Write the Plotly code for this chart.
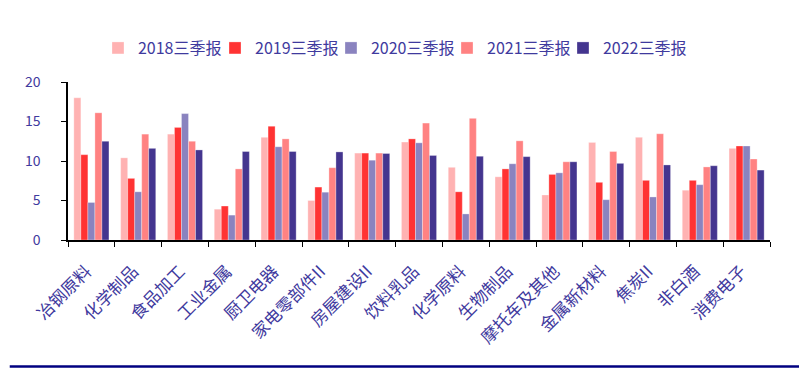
import plotly.graph_objects as go

categories = ["冶钢原料", "化学制品", "食品加工", "工业金属", "厨卫电器", "家电零部件II",
              "房屋建设II", "饮料乳品", "化学原料", "生物制品", "摩托车及其他", "金属新材料",
              "焦炭II", "非白酒", "消费电子"]
s2018 = [18.0, 10.4, 13.4, 3.9, 13.0, 5.0, 11.0, 12.4, 9.2, 8.0, 5.7, 12.35, 13.0, 6.3, 11.6]
s2019 = [10.8, 7.8, 14.25, 4.3, 14.4, 6.7, 11.0, 12.8, 6.1, 9.0, 8.3, 7.3, 7.55, 7.55, 11.9]
s2020 = [4.75, 6.1, 16.0, 3.15, 11.8, 6.05, 10.1, 12.3, 3.3, 9.65, 8.5, 5.1, 5.45, 7.0, 11.9]
s2021 = [16.1, 13.4, 12.5, 9.0, 12.8, 9.15, 11.0, 14.8, 15.4, 12.55, 9.9, 11.2, 13.45, 9.25, 10.25]
s2022 = [12.5, 11.6, 11.4, 11.2, 11.2, 11.15, 10.95, 10.7, 10.6, 10.55, 9.9, 9.7, 9.5, 9.4, 8.85]
series_names = ["2018三季报", "2019三季报", "2020三季报", "2021三季报", "2022三季报"]
series_values = [s2018, s2019, s2020, s2021, s2022]
colors = ["#FFB2B2", "#FF3333", "#8A83BF", "#FF8282", "#44358F"]
yticks = [0, 5, 10, 15, 20]

text_color = "#3F3A9E"
font_family = "Noto Sans CJK SC, Noto Sans, sans-serif"

legend_ids = ["legend", "legend2", "legend3", "legend4", "legend5"]
legend_x = [0.0427, 0.2094, 0.3746, 0.5399, 0.7051]

fig = go.Figure()
for name, vals, col, lid in zip(series_names, series_values, colors, legend_ids):
    fig.add_trace(go.Bar(x=categories, y=vals, name=name, legend=lid,
                         marker=dict(color=col, line=dict(width=0.5, color="rgba(255,255,255,0.6)"))))

legend_style = dict(orientation="h", xanchor="left", y=1.215, yanchor="middle",
                    font=dict(size=16, color=text_color), itemwidth=30,
                    bgcolor="rgba(0,0,0,0)")
layout_legends = {lid: dict(x=lx, **legend_style) for lid, lx in zip(legend_ids, legend_x)}

fig.update_layout(
    width=799, height=372,
    margin=dict(l=68, r=29, t=82, b=132, autoexpand=False),
    paper_bgcolor="white", plot_bgcolor="white",
    barmode="group", bargap=0.25, bargroupgap=0,
    font=dict(family=font_family, color=text_color, size=14),
    showlegend=True,
    xaxis=dict(showline=True, linecolor="black", linewidth=1.5, ticks="outside",
               tickson="boundaries", ticklen=5, tickcolor="black", tickangle=-45,
               ticklabelstandoff=13, ticklabelshift=-5,
               tickfont=dict(size=17, color=text_color), showgrid=False, automargin=False),
    yaxis=dict(range=[0, 20], tickvals=yticks, showline=True, linecolor="black",
               linewidth=1.5, ticks="outside", ticklen=5, tickcolor="black",
               ticklabelstandoff=18,
               tickfont=dict(size=14, color=text_color), showgrid=False, zeroline=False,
               automargin=False),
    **layout_legends,
)

fig.add_shape(type="line", xref="paper", yref="paper", x0=-0.083, x1=1.05,
              y0=-0.80, y1=-0.80, line=dict(color="#000080", width=2.5))

fig.write_html("out.html", config={"displayModeBar": False},
               post_script="document.body.style.margin='0px';")
